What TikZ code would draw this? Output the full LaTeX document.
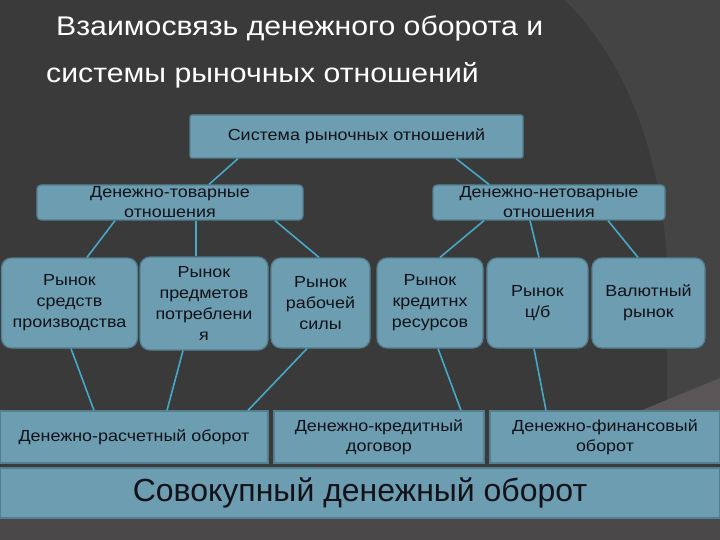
\documentclass[tikz,border=0pt]{standalone}
\usepackage{fontspec}
\setmainfont[FakeStretch=1.12]{Liberation Sans}
\newfontfamily\plainsans{Liberation Sans}
\definecolor{bgdark}{HTML}{3A3A3A}
\definecolor{bglight}{HTML}{444444}
\definecolor{bgwedge}{HTML}{5A5658}
\definecolor{bgbottom}{HTML}{4A4849}
\definecolor{boxfill}{HTML}{6C9DB0}
\definecolor{boxline}{HTML}{537F90}
\definecolor{conncol}{HTML}{45A9C9}
\definecolor{boxtext}{HTML}{121218}
\tikzset{
  basebox/.style={draw=boxline, fill=boxfill, line width=1.2pt, inner sep=0pt,
    align=center, text=boxtext, font=\fontsize{16}{20}\selectfont},
  topbox/.style={basebox, rounded corners=2pt, minimum width=333pt, minimum height=43pt},
  midbox/.style={basebox, rounded corners=4pt, minimum width=#1, minimum height=35pt},
  mktbox/.style={basebox, rounded corners=10pt, minimum width=#1, minimum height=90pt, font=\fontsize{16}{21}\selectfont},
  flowbox/.style={basebox, rounded corners=0pt, minimum width=#1, minimum height=52pt},
  totalbox/.style={basebox, rounded corners=0pt, minimum width=720pt, minimum height=50pt, font=\plainsans\fontsize{32}{36}\selectfont},
  titletext/.style={text=white, inner sep=0pt, anchor=west, font=\fontsize{27}{30}\selectfont},
  conn/.style={draw=conncol, line width=1.6pt}
}
\begin{document}
\begin{tikzpicture}[x=1pt,y=-1pt]
\useasboundingbox (0,0) rectangle (720,540);
% background
\fill[bgdark] (0,0) rectangle (720,540);
\fill[bglight] (565,0) .. controls (625,60) and (660,150) .. (667,260) -- (667,411) -- (720,411) -- (720,0) -- cycle;
\fill[bgwedge] (640,411) -- (720,378) -- (720,411) -- cycle;
\fill[bgbottom] (0,518) rectangle (720,540);
% title
\node[titletext] (t1) at (56,28) {Взаимосвязь денежного оборота и};
\node[titletext] (t2) at (46,75) {системы рыночных отношений};
% boxes
\node[topbox] (top) at (356.5,136.5) {Система рыночных отношений};
\node[midbox=266pt] (dt) at (170,202.5) {Денежно-товарные\\отношения};
\node[midbox=232pt] (dn) at (549,202.5) {Денежно-нетоварные\\отношения};
\node[mktbox=136pt] (b1) at (69.5,303) {Рынок\\средств\\производства};
\node[mktbox=128pt, minimum height=93pt] (b2) at (204,303.5) {Рынок\\предметов\\потреблени\\я};
\node[mktbox=99pt] (b3) at (320.5,303) {Рынок\\рабочей\\силы};
\node[mktbox=106pt] (b4) at (430,303) {Рынок\\кредитнх\\ресурсов};
\node[mktbox=101pt] (b5) at (537.5,303) {Рынок\\ц/б};
\node[mktbox=113pt] (b6) at (648.5,303) {Валютный\\рынок};
\node[flowbox=268pt] (r1) at (134,437) {Денежно-расчетный оборот};
\node[flowbox=210pt] (r2) at (379,437) {Денежно-кредитный\\договор};
\node[flowbox=230pt] (r3) at (605,437) {Денежно-финансовый\\оборот};
\node[totalbox] (tot) at (360,493) {Совокупный денежный оборот};
% connectors
\draw[conn] ([xshift=-118.5pt]top.south) -- ([xshift=39pt]dt.north);
\draw[conn] ([xshift=99.5pt]top.south) -- ([xshift=-60pt]dn.north);
\draw[conn] ([xshift=-55pt]dt.south) -- ([xshift=17.5pt]b1.north);
\draw[conn] ([xshift=26pt]dt.south) -- ([xshift=-8pt]b2.north);
\draw[conn] ([xshift=105pt]dt.south) -- ([xshift=-1.5pt]b3.north);
\draw[conn] ([xshift=-65pt]dn.south) -- ([xshift=10pt]b4.north);
\draw[conn] ([xshift=-19pt]dn.south) -- ([xshift=1.5pt]b5.north);
\draw[conn] ([xshift=59pt]dn.south) -- ([xshift=-10.5pt]b6.north);
\draw[conn] ([xshift=1.5pt]b1.south) -- ([xshift=-40pt]r1.north);
\draw[conn] ([xshift=-21pt]b2.south) -- ([xshift=33pt]r1.north);
\draw[conn] ([xshift=-13.5pt]b3.south) -- ([xshift=114pt]r1.north);
\draw[conn] ([xshift=8pt]b4.south) -- ([xshift=82pt]r2.north);
\draw[conn] ([xshift=-3.5pt]b5.south) -- ([xshift=-59pt]r3.north);
\end{tikzpicture}
\end{document}
